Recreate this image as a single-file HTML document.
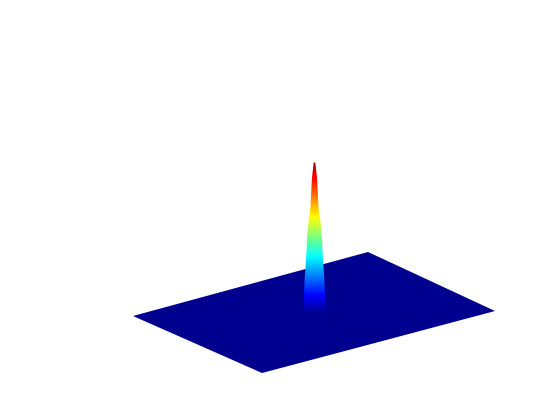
<!DOCTYPE html>
<html><head><meta charset="utf-8"><style>
html,body{margin:0;padding:0;background:#fff;}
svg{display:block;font-family:"Liberation Sans",sans-serif;}
</style></head><body>
<svg id="chart" width="560" height="420" viewBox="0 0 560 420" xmlns="http://www.w3.org/2000/svg">
<polygon points="133,316 368,252 495,311 262,373" fill="#00008f"/>
<g id="spike"></g>
</svg>
<script>
var zLevels = [0, 0.1, 0.2, 0.3, 0.4, 0.5, 0.6, 0.7, 0.8, 0.9, 1.0];
var halfWidths = [11.5, 10.5, 10, 9, 8, 7.5, 6, 4, 3.3, 2.5, 0.8];
var peakX = 314.5, baseY = 312, topY = 163;
function yOf(z){ return baseY - z*(baseY-topY); }
function jet(t){
  function c(v){ return Math.round(255*Math.max(0,Math.min(1,v))); }
  var r = 1.5 - Math.abs(4*t-3), g = 1.5 - Math.abs(4*t-2), b = 1.5 - Math.abs(4*t-1);
  return 'rgb('+c(r)+','+c(g)+','+c(b)+')';
}
var g = document.getElementById('spike');
var steps = 60;
function interp(z){
  for (var i=0;i<zLevels.length-1;i++){
    if (z<=zLevels[i+1]){ var f=(z-zLevels[i])/(zLevels[i+1]-zLevels[i]); return halfWidths[i]+f*(halfWidths[i+1]-halfWidths[i]); }
  }
  return halfWidths[halfWidths.length-1];
}
for (var s=0;s<steps;s++){
  var z0=s/steps, z1=(s+1)/steps;
  var w0=interp(z0), w1=interp(z1);
  var p=document.createElementNS('http://www.w3.org/2000/svg','polygon');
  
  
  p.setAttribute('points',[(peakX-w0)+','+yOf(z0),(peakX+w0)+','+yOf(z0),(peakX+w1)+','+(yOf(z1)-0.5),(peakX-w1)+','+(yOf(z1)-0.5)].join(' '));
  p.setAttribute('fill',jet((z0+z1)/2*0.95+0.02));
  g.appendChild(p);
}
</script>
</body></html>
